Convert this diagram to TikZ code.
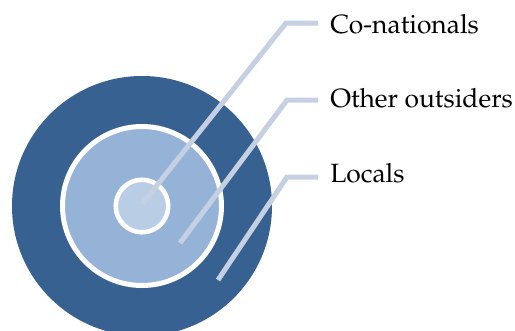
\documentclass[tikz,border=0pt]{standalone}
\usepackage[T1]{fontenc}
\usepackage{mathpazo}
\usepackage{xcolor}
\usepackage{tikz}
\usetikzlibrary{positioning, calc}
\definecolor{ringdark}{RGB}{54,97,145}
\definecolor{ringmid}{RGB}{149,179,215}
\definecolor{ringcore}{RGB}{185,205,229}
\definecolor{leadgray}{RGB}{197,208,227}

\begin{document}
\begin{tikzpicture}[
    x=0.75pt, y=-0.75pt,
    disc/.style={circle, inner sep=0pt, outer sep=0pt},
    leader/.style={draw=leadgray, line width=3.75pt, miter limit=4},
    tag/.style={anchor=base west, inner sep=0pt, font=\fontsize{19.8}{22}\selectfont}
]
    \useasboundingbox (0,0) rectangle (515,330);
    \clip (0,0) rectangle (515,330);

    \node[disc, fill=ringdark, minimum size=195pt] (locals) at (142,206) {};
    \node[disc, fill=ringmid, draw=white, line width=3.75pt, minimum size=119.25pt] (others) at (142,206) {};
    \node[disc, fill=ringcore, draw=white, line width=3.4pt, minimum size=39.4pt] (conat) at (142,206) {};

    \coordinate (p1) at (142,204);
    \coordinate (p2) at (180,243);
    \coordinate (p3) at (218,280);

    \node[tag] (t1) at (330,33) {Co-nationals};
    \node[tag] (t2) at (330,107) {Other outsiders};
    \node[tag] (t3) at (330,182) {Locals};

    \coordinate (e1) at (318,23);
    \coordinate (e2) at (318,100);
    \coordinate (e3) at (318,177);

    \draw[leader] (p1) -- (286,23) -- (e1);
    \draw[leader] (p2) -- (287,100) -- (e2);
    \draw[leader] (p3) -- (287,177) -- (e3);
\end{tikzpicture}
\end{document}
